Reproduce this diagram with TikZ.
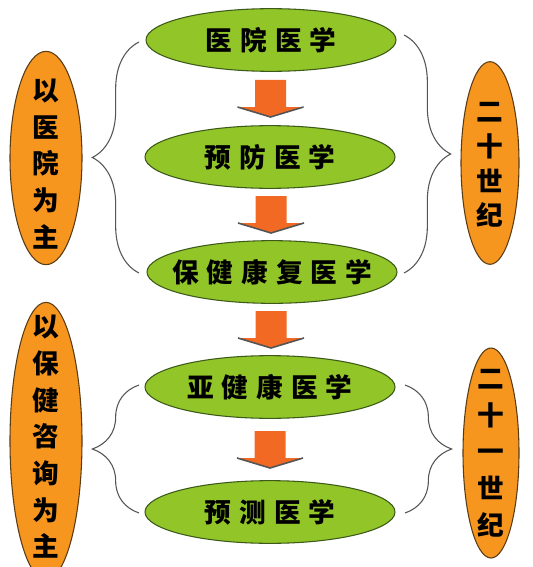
\documentclass[tikz,border=0pt]{standalone}
\usepackage{fontspec}
\newfontfamily\cjk{Noto Sans CJK SC}
\usetikzlibrary{shapes.geometric,decorations.pathreplacing,calc}

\definecolor{leafgreen}{RGB}{146,198,40}
\definecolor{rimgreen}{RGB}{60,90,25}
\definecolor{ambre}{RGB}{247,150,30}
\definecolor{rimambre}{RGB}{90,60,20}
\definecolor{arrowred}{RGB}{242,105,35}
\definecolor{bracegrey}{RGB}{85,85,85}

\tikzset{
  stage/.style={ellipse, draw=rimgreen, line width=0.8pt, fill=leafgreen, inner sep=0pt,
    minimum width=187.5pt, minimum height=47pt, font=\cjk\bfseries\fontsize{20}{24}\selectfont},
  era/.style={ellipse, draw=rimambre, line width=0.8pt, fill=ambre, inner sep=0pt},
  eratext/.style={align=center, inner sep=0pt, font=\cjk\bfseries\fontsize{20}{27.5}\selectfont},
  bracket/.style={decorate, decoration={brace, amplitude=35pt}, draw=bracegrey, line width=0.8pt},
}
\newcommand{\gap}{\hspace{6pt}}
\newcommand{\flatbox}[1]{\makebox[0pt]{#1}}

\begin{document}
\begin{tikzpicture}[x=0.75pt,y=0.75pt,yscale=-1,xscale=1]
\useasboundingbox (0,0) rectangle (532,567);
\fill[white] (0,0) rectangle (532,567);

% stages
\node[stage] (yiyuan) at (271,40) {\flatbox{医\gap 院\gap 医\gap 学}};
\node[stage] (yufang) at (270,157) {\flatbox{预\gap 防\gap 医\gap 学}};
\node[stage] (kangfu) at (272,272) {\flatbox{保\gap 健\gap 康\gap 复\gap 医\gap 学}};
\node[stage] (yajk) at (270,387) {\flatbox{亚\gap 健\gap 康\gap 医\gap 学}};
\node[stage] (yuce) at (270,512) {\flatbox{预\gap 测\gap 医\gap 学}};

% arrows between stages
\foreach \a/\b in {yiyuan/yufang,yufang/kangfu,kangfu/yajk,yajk/yuce}{
  \coordinate (mid-\a) at ($(\a.south)!0.5!(\b.north)$);
  \begin{scope}[shift={(mid-\a)}]
    \fill[arrowred] (-15.5,-18.5) -- (15.5,-18.5) -- (15.5,8.5) -- (33,8.5) -- (0,18.5)
      -- (-33,8.5) -- (-15.5,8.5) -- cycle;
    \draw[bracegrey, line width=1.2pt] (-33,8.5) -- (0,18.5) -- (33,8.5);
  \end{scope}
}

% left ellipses
\node[era, minimum width=54pt, minimum height=160pt] (zhuA) at (46,158) {};
\node[eratext] (zhuAtext) at (46,164) {以\\医\\院\\为\\主};
\node[era, minimum width=54pt, minimum height=208pt] (zhuB) at (46,441) {};
\node[eratext] (zhuBtext) at (46,437) {以\\保\\健\\咨\\询\\为\\主};

% right ellipses
\node[era, minimum width=43.5pt, minimum height=152pt] (eraA) at (490,163) {};
\node[eratext, font=\cjk\bfseries\fontsize{20}{26}\selectfont] (eraAtext) at (490,165) {二\\十\\世\\纪};
\node[era, minimum width=42pt, minimum height=157.5pt] (eraB) at (491,453) {};
\node[eratext] (eraBtext) at (491,453) {二\\十\\一\\世\\纪};

% braces
\coordinate (lAtop) at (139,42);
\coordinate (lAbot) at (139,273);
\coordinate (rAtop) at (404,35);
\coordinate (rAbot) at (404,273);
\coordinate (lBtop) at (139,385);
\coordinate (lBbot) at (139,513);
\coordinate (rBtop) at (405,385);
\coordinate (rBbot) at (405,513);
\draw[bracket] (lAbot) -- (lAtop);
\draw[bracket] (rAtop) -- (rAbot);
\draw[bracket] (lBbot) -- (lBtop);
\draw[bracket] (rBtop) -- (rBbot);
\end{tikzpicture}
\end{document}
